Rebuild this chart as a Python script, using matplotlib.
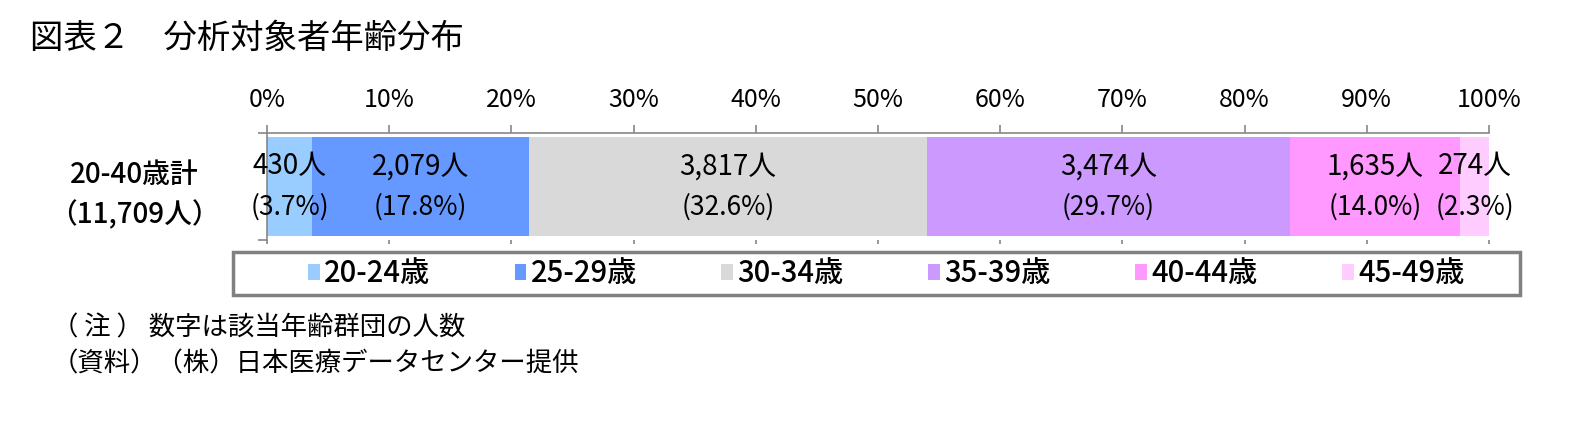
import matplotlib
matplotlib.use("Agg")
import matplotlib.pyplot as plt
from matplotlib.patches import Rectangle

plt.rcParams['font.family'] = ['Noto Sans CJK JP', 'DejaVu Sans']

# データ
groups = ['20-24歳', '25-29歳', '30-34歳', '35-39歳', '40-44歳', '45-49歳']
counts = [430, 2079, 3817, 3474, 1635, 274]
pct_labels = ['3.7%', '17.8%', '32.6%', '29.7%', '14.0%', '2.3%']
colors = ['#99CCFF', '#6699FF', '#D9D9D9', '#CC99FF', '#FF99FF', '#FFCCFF']
category = '20-40歳計\n（11,709人）'
xticks = [0, 10, 20, 30, 40, 50, 60, 70, 80, 90, 100]

total = sum(counts)
shares = [c / total * 100 for c in counts]

fig = plt.figure(figsize=(15.71, 4.21), dpi=100)
ax = fig.add_axes([267 / 1571, 1 - 240 / 421, 1222 / 1571, 107 / 421])

left = 0
bars = []
for g, s, c, col, p in zip(groups, shares, counts, colors, pct_labels):
    b = ax.barh(0, s, left=left, height=0.916, color=col, label=g)
    bars.append(b)
    cx = left + s / 2
    ax.text(cx, 0.19, f'{c:,}人', ha='center', va='center', fontsize=20)
    ax.text(cx, -0.19, f'({p})', ha='center', va='center', fontsize=19)
    left += s

ax.set_xlim(0, 100)
ax.set_ylim(-0.5, 0.5)

gray = '#868686'
for side in ['right', 'bottom']:
    ax.spines[side].set_visible(False)
ax.spines['top'].set_color(gray)
ax.spines['left'].set_color(gray)
ax.spines['top'].set_linewidth(1.2)
ax.spines['left'].set_linewidth(1.2)

ax.set_xticks(xticks)
ax.set_xticklabels([f'{t}%' for t in xticks])
ax.xaxis.tick_top()
ax.tick_params(axis='x', which='major', top=True, bottom=False, labeltop=True,
               labelbottom=False, direction='out', length=5.5, width=1.2,
               color=gray, pad=9, labelsize=18)

# 下側の目盛り
sec = ax.secondary_xaxis('bottom')
sec.set_xticks(xticks)
sec.set_xticklabels([])
sec.spines['bottom'].set_visible(False)
sec.tick_params(direction='out', length=3, width=1.2, color=gray)

ax.set_yticks([0])
ax.set_yticklabels([category], fontsize=20, fontweight='medium',
                   multialignment='center', linespacing=1.45)
ax.tick_params(axis='y', which='major', length=0, pad=34)
ax.set_yticks([-0.5, 0.5], minor=True)
ax.tick_params(axis='y', which='minor', length=6.5, width=1.2, color=gray)

# 凡例
fig.patches.append(Rectangle((233 / 1571, 1 - 294.5 / 421), (1520 - 233) / 1571, 43 / 421,
                             transform=fig.transFigure, fill=False,
                             edgecolor='#808080', linewidth=2.5))
fig.legend(handles=[b[0] for b in bars], labels=groups, loc='center',
           bbox_to_anchor=(886 / 1571, 1 - 274 / 421), ncol=6, frameon=False,
           prop={'size': 21, 'weight': 'medium'}, handlelength=0.4,
           handleheight=0.45, handletextpad=0.15, columnspacing=2.9)

fig.text(30 / 1571, 1 - 38 / 421, '図表２　分析対象者年齢分布', fontsize=24,
         va='center', ha='left')
fig.text(52 / 1571, 1 - 328 / 421, '（ 注 ） 数字は該当年齢群団の人数', fontsize=19,
         va='center', ha='left')
fig.text(52 / 1571, 1 - 364 / 421, '（資料）（株）日本医療データセンター提供', fontsize=19,
         va='center', ha='left')

fig.savefig('out.png', dpi=100)
